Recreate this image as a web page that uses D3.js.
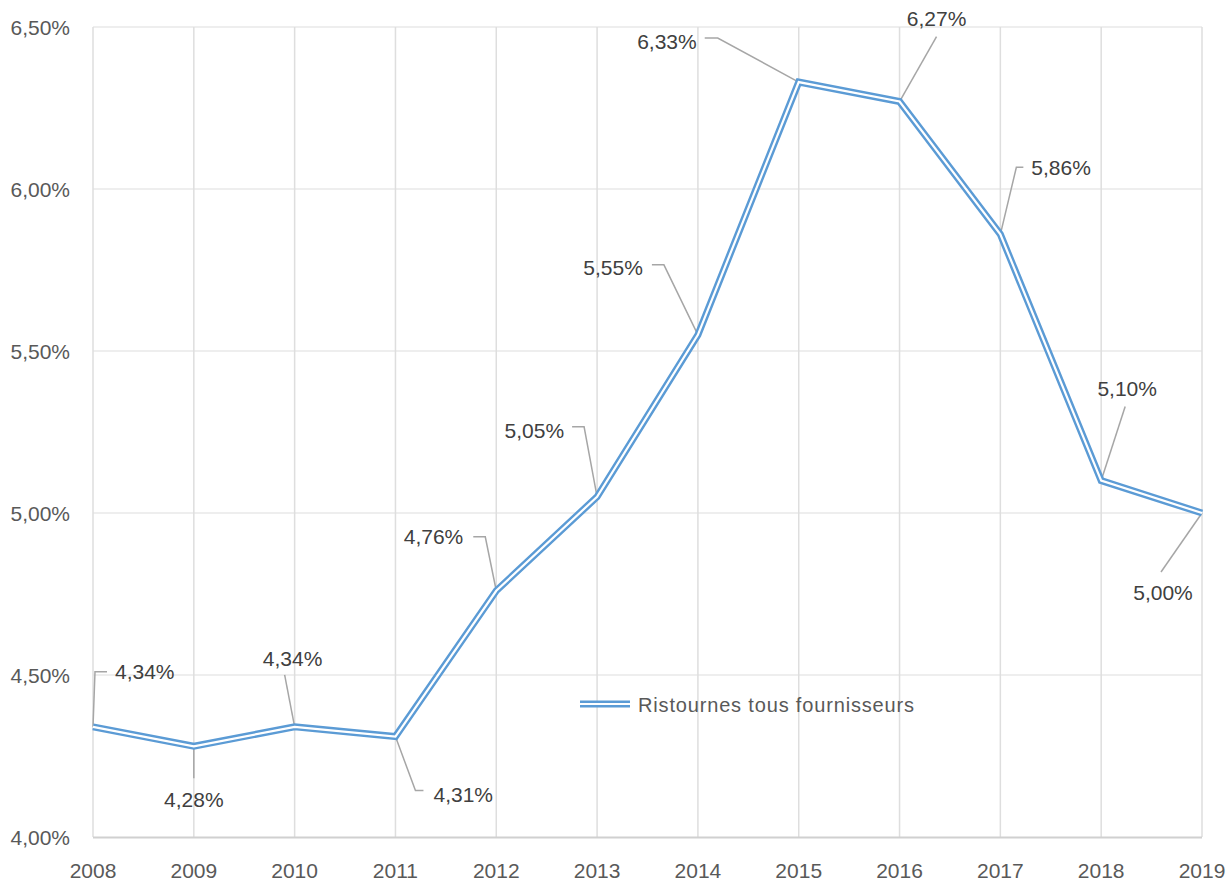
<!DOCTYPE html>
<html>
<head>
<meta charset="utf-8">
<script src="https://cdn.jsdelivr.net/npm/d3@7"></script>
<style>
  body { margin: 0; background: #fff; }
  text { font-family: "Liberation Sans", Arial, sans-serif; fill: #404040; }
</style>
</head>
<body>
<div id="viz"></div>
<script>
const years = [2008, 2009, 2010, 2011, 2012, 2013, 2014, 2015, 2016, 2017, 2018, 2019];
const rates = [4.34, 4.28, 4.34, 4.31, 4.76, 5.05, 5.55, 6.33, 6.27, 5.86, 5.10, 5.00];
const yTicks = [4.0, 4.5, 5.0, 5.5, 6.0, 6.5];
const seriesName = 'Ristournes tous fournisseurs';

// label placement (offset of label anchor from point, leader elbow)
const labelLayout = [
  { dx: 22, dy: -55, anchor: 'start', elbow: [2, -55], start: [14, -55] },
  { dx: 0, dy: 53, anchor: 'middle', elbow: null, start: [0, 32] },
  { dx: -2, dy: -68, anchor: 'middle', elbow: null, start: [-10, -52] },
  { dx: 38, dy: 58, anchor: 'start', elbow: [20, 54], start: [28, 54] },
  { dx: -33, dy: -54, anchor: 'end', elbow: [-11, -54], start: [-23, -54] },
  { dx: -33, dy: -66, anchor: 'end', elbow: [-13, -70], start: [-25, -70] },
  { dx: -55, dy: -67, anchor: 'end', elbow: [-34, -70], start: [-46, -70] },
  { dx: -102, dy: -41, anchor: 'end', elbow: [-81, -44], start: [-94, -44] },
  { dx: 37, dy: -83, anchor: 'middle', elbow: null, start: [37, -65] },
  { dx: 31, dy: -67, anchor: 'start', elbow: [16, -67], start: [23, -67] },
  { dx: 26, dy: -92, anchor: 'middle', elbow: null, start: [24, -74] },
  { dx: -39, dy: 79, anchor: 'middle', elbow: null, start: [-41, 59] }
];

const width = 1230;
const height = 881;
const fmt = v => v.toFixed(2).replace('.', ',') + '%';

const svg = d3.select('#viz').append('svg')
  .attr('width', width)
  .attr('height', height);

const x = d3.scaleLinear().domain([2008, 2019]).range([93, 1202]);
const y = d3.scaleLinear().domain([4.0, 6.5]).range([837, 27]);

// gridlines
svg.append('g').selectAll('line.h')
  .data(yTicks.slice(1))
  .enter().append('line')
  .attr('x1', 93).attr('x2', 1202)
  .attr('y1', d => y(d)).attr('y2', d => y(d))
  .attr('stroke', '#e8e8e8').attr('stroke-width', 1.5);

svg.append('g').selectAll('line.v')
  .data(years)
  .enter().append('line')
  .attr('x1', d => x(d)).attr('x2', d => x(d))
  .attr('y1', 27).attr('y2', 837)
  .attr('stroke', '#dedede').attr('stroke-width', 1.5);

// x axis baseline
svg.append('line')
  .attr('x1', 93).attr('x2', 1202)
  .attr('y1', 837.5).attr('y2', 837.5)
  .attr('stroke', '#d0d0d0').attr('stroke-width', 2);

// tick labels
svg.append('g').selectAll('text')
  .data(yTicks)
  .enter().append('text')
  .attr('x', 70).attr('y', d => y(d) + 7.5)
  .attr('text-anchor', 'end')
  .attr('font-size', 21)
  .style('fill', '#595959')
  .text(d => fmt(d));

svg.append('g').selectAll('text')
  .data(years)
  .enter().append('text')
  .attr('x', d => x(d)).attr('y', 878)
  .attr('text-anchor', 'middle')
  .attr('font-size', 21)
  .style('fill', '#595959')
  .text(d => d);

const pts = years.map((yr, i) => ({ year: yr, value: rates[i] }));

// leader lines
const leaders = svg.append('g');
pts.forEach((d, i) => {
  const L = labelLayout[i];
  const px = x(d.year);
  const py = y(d.value);
  const path = [[px + L.start[0], py + L.start[1]]];
  if (L.elbow) path.push([px + L.elbow[0], py + L.elbow[1]]);
  path.push([px, py]);
  leaders.append('path')
    .attr('d', d3.line()(path))
    .attr('fill', 'none')
    .attr('stroke', '#a6a6a6')
    .attr('stroke-width', 1.5);
});

// double line
const line = d3.line().x(d => x(d.year)).y(d => y(d.value));
svg.append('path').datum(pts)
  .attr('d', line)
  .attr('fill', 'none')
  .attr('stroke', '#5b9bd5')
  .attr('stroke-width', 7)
  .attr('stroke-linejoin', 'miter');
svg.append('path').datum(pts)
  .attr('d', line)
  .attr('fill', 'none')
  .attr('stroke', '#fff')
  .attr('stroke-width', 2.2)
  .attr('stroke-linejoin', 'miter');

// data labels
svg.append('g').selectAll('text')
  .data(pts)
  .enter().append('text')
  .attr('x', (d, i) => x(d.year) + labelLayout[i].dx)
  .attr('y', (d, i) => y(d.value) + labelLayout[i].dy + 7.5)
  .attr('text-anchor', (d, i) => labelLayout[i].anchor)
  .attr('font-size', 21)
  .text(d => fmt(d.value));

// legend
const lg = svg.append('g');
lg.append('line')
  .attr('x1', 580).attr('x2', 630).attr('y1', 704).attr('y2', 704)
  .attr('stroke', '#5b9bd5').attr('stroke-width', 7);
lg.append('line')
  .attr('x1', 580).attr('x2', 630).attr('y1', 704).attr('y2', 704)
  .attr('stroke', '#fff').attr('stroke-width', 2.2);
lg.append('text')
  .attr('x', 638).attr('y', 711.5)
  .attr('font-size', 20)
  .attr('textLength', 276)
  .style('fill', '#595959')
  .text(seriesName);
</script>
</body>
</html>
